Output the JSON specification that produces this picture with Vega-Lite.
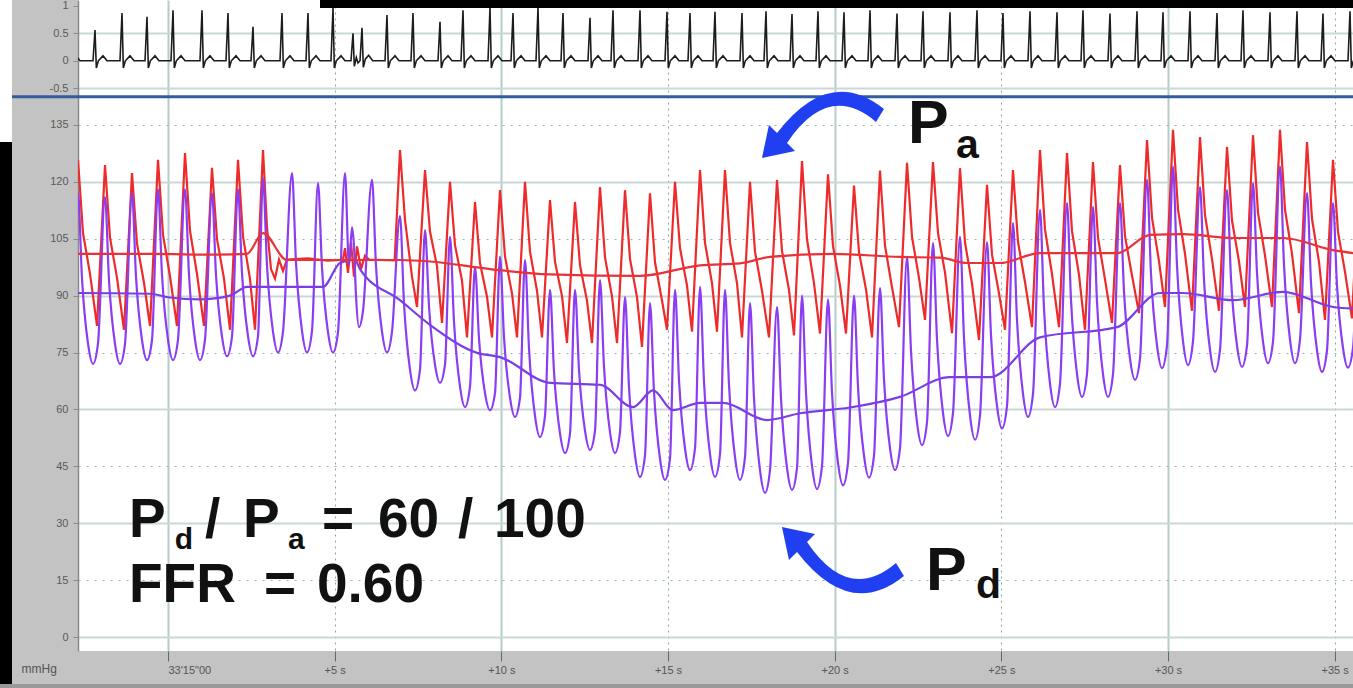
{
"$schema": "https://vega.github.io/schema/vega-lite/v6.json",
"width": 1275,
"height": 651,
"autosize": {"type": "none"},
"padding": {"left": 78, "top": 0, "right": 0, "bottom": 37},
"background": "#c3c3c3",
"config": {"view": {"fill": "#ffffff", "stroke": null}, "font": "Liberation Sans"},
"datasets": {
"pa": [
{"t":-3.72,"p":83},{"t":-3.48,"p":125},{"t":-3.33,"p":106.1},{"t":-3.12,"p":95.6},
{"t":-2.94,"p":83},{"t":-2.7,"p":125.8},{"t":-2.55,"p":106.5},{"t":-2.34,"p":95.8},
{"t":-2.13,"p":82},{"t":-1.89,"p":124.4},{"t":-1.74,"p":105.3},{"t":-1.53,"p":94.7},
{"t":-1.32,"p":81},{"t":-1.08,"p":122.3},{"t":-0.93,"p":103.7},{"t":-0.72,"p":93.4},
{"t":-0.54,"p":82},{"t":-0.3,"p":125.8},{"t":-0.15,"p":106.1},{"t":0.06,"p":95.1},
{"t":0.27,"p":82},{"t":0.51,"p":127.6},{"t":0.66,"p":107.1},{"t":0.87,"p":95.7},
{"t":1.08,"p":82},{"t":1.32,"p":123.7},{"t":1.47,"p":104.9},{"t":1.68,"p":94.5},
{"t":1.86,"p":81},{"t":2.1,"p":125.8},{"t":2.25,"p":105.6},{"t":2.46,"p":94.4},
{"t":2.61,"p":81},{"t":2.85,"p":128.4},{"t":2.97,"p":108},{"t":3.09,"p":97},{"t":3.21,"p":94.5},{"t":3.33,"p":99.5},{"t":3.45,"p":96.5},{"t":3.57,"p":99.5},{"t":4.2,"p":99.8},{"t":4.8,"p":99.2},{"t":5.25,"p":99.5},{"t":5.31,"p":102.5},{"t":5.4,"p":96},{"t":5.49,"p":104},{"t":5.58,"p":95},{"t":5.67,"p":103},{"t":5.79,"p":97},{"t":5.91,"p":100.5},{"t":6.03,"p":99.5},{"t":6.8,"p":99.3},
{"t":6.96,"p":128.4},{"t":7.11,"p":110},{"t":7.32,"p":95},
{"t":7.47,"p":87},{"t":7.71,"p":123.1},{"t":7.86,"p":106.9},{"t":8.07,"p":97.8},
{"t":8.22,"p":82.8},{"t":8.46,"p":120},{"t":8.61,"p":103.3},{"t":8.82,"p":94},
{"t":8.97,"p":79},{"t":9.21,"p":114.7},{"t":9.36,"p":98.6},{"t":9.57,"p":89.7},
{"t":9.72,"p":79},{"t":9.96,"p":117.8},{"t":10.11,"p":100.3},{"t":10.32,"p":90.6},
{"t":10.47,"p":79},{"t":10.71,"p":120},{"t":10.86,"p":101.6},{"t":11.07,"p":91.3},
{"t":11.22,"p":79},{"t":11.46,"p":115.2},{"t":11.61,"p":98.9},{"t":11.82,"p":89.9},
{"t":11.97,"p":77.5},{"t":12.21,"p":114.7},{"t":12.36,"p":98},{"t":12.57,"p":88.7},
{"t":12.72,"p":77.5},{"t":12.96,"p":118.6},{"t":13.11,"p":100.1},{"t":13.32,"p":89.8},
{"t":13.47,"p":77.5},{"t":13.71,"p":117.8},{"t":13.86,"p":99.7},{"t":14.07,"p":89.6},
{"t":14.22,"p":76.5},{"t":14.46,"p":117},{"t":14.61,"p":98.8},{"t":14.82,"p":88.7},
{"t":14.97,"p":81},{"t":15.21,"p":120},{"t":15.36,"p":102.5},{"t":15.57,"p":92.7},
{"t":15.72,"p":80.5},{"t":15.96,"p":123.1},{"t":16.11,"p":103.9},{"t":16.32,"p":93.3},
{"t":16.47,"p":80.5},{"t":16.71,"p":123.1},{"t":16.86,"p":103.9},{"t":17.07,"p":93.3},
{"t":17.22,"p":79},{"t":17.46,"p":120},{"t":17.61,"p":101.6},{"t":17.82,"p":91.3},
{"t":18.03,"p":79},{"t":18.27,"p":120.5},{"t":18.42,"p":101.8},{"t":18.63,"p":91.5},
{"t":18.78,"p":79.5},{"t":19.02,"p":125.5},{"t":19.17,"p":104.8},{"t":19.38,"p":93.3},
{"t":19.56,"p":80},{"t":19.8,"p":122},{"t":19.95,"p":103.1},{"t":20.16,"p":92.6},
{"t":20.34,"p":80},{"t":20.58,"p":119},{"t":20.73,"p":101.5},{"t":20.94,"p":91.7},
{"t":21.12,"p":79},{"t":21.36,"p":123},{"t":21.51,"p":103.2},{"t":21.72,"p":92.2},
{"t":21.93,"p":81.7},{"t":22.17,"p":125},{"t":22.32,"p":105.5},{"t":22.53,"p":94.7},
{"t":22.71,"p":83.6},{"t":22.95,"p":125.2},{"t":23.1,"p":106.5},{"t":23.31,"p":96.1},
{"t":23.52,"p":80.1},{"t":23.76,"p":123.6},{"t":23.91,"p":104},{"t":24.12,"p":93.2},
{"t":24.33,"p":78.3},{"t":24.57,"p":119.2},{"t":24.72,"p":100.8},{"t":24.93,"p":90.6},
{"t":25.11,"p":81},{"t":25.35,"p":123.1},{"t":25.5,"p":104.2},{"t":25.71,"p":93.6},
{"t":25.92,"p":81.7},{"t":26.16,"p":128.4},{"t":26.31,"p":107.4},{"t":26.52,"p":95.7},
{"t":26.73,"p":81.7},{"t":26.97,"p":127.6},{"t":27.12,"p":107},{"t":27.33,"p":95.5},
{"t":27.51,"p":81},{"t":27.75,"p":125.2},{"t":27.9,"p":105.3},{"t":28.11,"p":94.3},
{"t":28.32,"p":82.8},{"t":28.56,"p":124.4},{"t":28.71,"p":105.7},{"t":28.92,"p":95.3},
{"t":29.13,"p":85.4},{"t":29.37,"p":131},{"t":29.52,"p":110.5},{"t":29.73,"p":99.1},
{"t":29.91,"p":87},{"t":30.15,"p":133.7},{"t":30.3,"p":112.7},{"t":30.51,"p":101},
{"t":30.72,"p":86},{"t":30.96,"p":131.8},{"t":31.11,"p":111.2},{"t":31.32,"p":99.7},
{"t":31.53,"p":86},{"t":31.77,"p":129.2},{"t":31.92,"p":109.8},{"t":32.13,"p":99},
{"t":32.31,"p":87},{"t":32.55,"p":132.3},{"t":32.7,"p":111.9},{"t":32.91,"p":100.6},
{"t":33.12,"p":87},{"t":33.36,"p":133.7},{"t":33.51,"p":112.7},{"t":33.72,"p":101},
{"t":33.93,"p":85.4},{"t":34.17,"p":130.5},{"t":34.32,"p":110.2},{"t":34.53,"p":98.9},
{"t":34.71,"p":83.6},{"t":34.95,"p":125.8},{"t":35.1,"p":106.8},{"t":35.31,"p":96.3},
{"t":35.52,"p":84},{"t":35.76,"p":126},{"t":35.91,"p":107}
],
"pd": [
{"t":-3.48,"p":117},{"t":-3.36,"p":95},{"t":-3.18,"p":78.3},{"t":-3.03,"p":73},{"t":-2.88,"p":78.3},
{"t":-2.7,"p":117},{"t":-2.58,"p":94.5},{"t":-2.4,"p":77.4},{"t":-2.25,"p":72},{"t":-2.1,"p":77.4},
{"t":-1.89,"p":116},{"t":-1.77,"p":94},{"t":-1.59,"p":77.3},{"t":-1.44,"p":72},{"t":-1.29,"p":77.3},
{"t":-1.08,"p":117},{"t":-0.96,"p":95},{"t":-0.78,"p":78.3},{"t":-0.63,"p":73},{"t":-0.48,"p":78.3},
{"t":-0.3,"p":118},{"t":-0.18,"p":95.5},{"t":0,"p":78.4},{"t":0.15,"p":73},{"t":0.3,"p":78.4},
{"t":0.51,"p":118},{"t":0.63,"p":95.5},{"t":0.81,"p":78.4},{"t":0.96,"p":73},{"t":1.11,"p":78.4},
{"t":1.32,"p":117},{"t":1.44,"p":95.5},{"t":1.62,"p":79.2},{"t":1.77,"p":74},{"t":1.92,"p":79.2},
{"t":2.1,"p":118},{"t":2.22,"p":96},{"t":2.4,"p":79.3},{"t":2.55,"p":74},{"t":2.7,"p":79.3},
{"t":2.85,"p":121},{"t":2.97,"p":98},{"t":3.15,"p":80.5},{"t":3.3,"p":75},{"t":3.45,"p":80.5},
{"t":3.72,"p":122.3},{"t":3.84,"p":98.7},{"t":4.02,"p":80.7},{"t":4.17,"p":75},{"t":4.32,"p":80.7},
{"t":4.5,"p":119.7},{"t":4.62,"p":97.4},{"t":4.8,"p":80.4},{"t":4.95,"p":75},{"t":5.1,"p":80.4},
{"t":5.31,"p":122.3},{"t":5.43,"p":98},{"t":5.52,"p":108},{"t":5.58,"p":103},{"t":5.64,"p":90},{"t":5.73,"p":81.7},{"t":5.85,"p":86},
{"t":6.12,"p":120.5},{"t":6.24,"p":97.8},{"t":6.42,"p":80.5},{"t":6.57,"p":75},{"t":6.72,"p":80.5},
{"t":6.96,"p":111},{"t":7.08,"p":88},{"t":7.26,"p":70.5},{"t":7.41,"p":65},{"t":7.56,"p":70.5},
{"t":7.71,"p":107.3},{"t":7.83,"p":87.2},{"t":8.01,"p":71.8},{"t":8.16,"p":67},{"t":8.31,"p":71.8},
{"t":8.46,"p":105.5},{"t":8.58,"p":83.1},{"t":8.76,"p":66},{"t":8.91,"p":60.6},{"t":9.06,"p":66},
{"t":9.21,"p":97.5},{"t":9.33,"p":78.7},{"t":9.51,"p":64.3},{"t":9.66,"p":59.8},{"t":9.81,"p":64.3},
{"t":9.96,"p":100.2},{"t":10.08,"p":79.1},{"t":10.26,"p":63.1},{"t":10.41,"p":58},{"t":10.56,"p":63.1},
{"t":10.71,"p":99.4},{"t":10.83,"p":76.1},{"t":11.01,"p":58.3},{"t":11.16,"p":52.7},{"t":11.31,"p":58.3},
{"t":11.46,"p":91.5},{"t":11.58,"p":70},{"t":11.76,"p":53.7},{"t":11.91,"p":48.5},{"t":12.06,"p":53.7},
{"t":12.21,"p":91.5},{"t":12.33,"p":70.4},{"t":12.51,"p":54.4},{"t":12.66,"p":49.3},{"t":12.81,"p":54.4},
{"t":12.96,"p":94.1},{"t":13.08,"p":71.3},{"t":13.26,"p":54},{"t":13.41,"p":48.5},{"t":13.56,"p":54},
{"t":13.71,"p":89.6},{"t":13.83,"p":65.9},{"t":14.01,"p":47.9},{"t":14.16,"p":42.2},{"t":14.31,"p":47.9},
{"t":14.46,"p":88},{"t":14.58,"p":64.7},{"t":14.76,"p":47},{"t":14.91,"p":41.4},{"t":15.06,"p":47},
{"t":15.21,"p":91.5},{"t":15.33,"p":67.8},{"t":15.51,"p":49.7},{"t":15.66,"p":44},{"t":15.81,"p":49.7},
{"t":15.96,"p":92.3},{"t":16.08,"p":67.3},{"t":16.26,"p":48.2},{"t":16.41,"p":42.2},{"t":16.56,"p":48.2},
{"t":16.71,"p":91.5},{"t":16.83,"p":66.5},{"t":17.01,"p":47.4},{"t":17.16,"p":41.4},{"t":17.31,"p":47.4},
{"t":17.46,"p":88},{"t":17.58,"p":63},{"t":17.76,"p":44},{"t":17.91,"p":38},{"t":18.06,"p":44},
{"t":18.27,"p":87},{"t":18.39,"p":62.9},{"t":18.57,"p":44.6},{"t":18.72,"p":38.8},{"t":18.87,"p":44.6},
{"t":19.02,"p":90},{"t":19.14,"p":64.5},{"t":19.32,"p":45.1},{"t":19.47,"p":39},{"t":19.62,"p":45.1},
{"t":19.8,"p":89},{"t":19.92,"p":64.5},{"t":20.1,"p":45.9},{"t":20.25,"p":40},{"t":20.4,"p":45.9},
{"t":20.58,"p":90},{"t":20.7,"p":66},{"t":20.88,"p":47.8},{"t":21.03,"p":42},{"t":21.18,"p":47.8},
{"t":21.36,"p":92},{"t":21.48,"p":68},{"t":21.66,"p":49.8},{"t":21.81,"p":44},{"t":21.96,"p":49.8},
{"t":22.17,"p":100.2},{"t":22.29,"p":75.4},{"t":22.47,"p":56.6},{"t":22.62,"p":50.6},{"t":22.77,"p":56.6},
{"t":22.95,"p":103.9},{"t":23.07,"p":78.5},{"t":23.25,"p":59.1},{"t":23.4,"p":53},{"t":23.55,"p":59.1},
{"t":23.76,"p":105.5},{"t":23.88,"p":78.8},{"t":24.06,"p":58.4},{"t":24.21,"p":52},{"t":24.36,"p":58.4},
{"t":24.57,"p":104.1},{"t":24.69,"p":79.6},{"t":24.87,"p":60.9},{"t":25.02,"p":55},{"t":25.17,"p":60.9},
{"t":25.35,"p":109.1},{"t":25.47,"p":83.6},{"t":25.65,"p":64.1},{"t":25.8,"p":58},{"t":25.95,"p":64.1},
{"t":26.16,"p":112.6},{"t":26.28,"p":86.6},{"t":26.46,"p":66.8},{"t":26.61,"p":60.6},{"t":26.76,"p":66.8},
{"t":26.97,"p":114.4},{"t":27.09,"p":88.9},{"t":27.27,"p":69.4},{"t":27.42,"p":63.3},{"t":27.57,"p":69.4},
{"t":27.75,"p":113.4},{"t":27.87,"p":88.4},{"t":28.05,"p":69.3},{"t":28.2,"p":63.3},{"t":28.35,"p":69.3},
{"t":28.56,"p":114.4},{"t":28.68,"p":91.1},{"t":28.86,"p":73.4},{"t":29.01,"p":67.8},{"t":29.16,"p":73.4},
{"t":29.37,"p":120.5},{"t":29.49,"p":95.7},{"t":29.67,"p":76.9},{"t":29.82,"p":70.9},{"t":29.97,"p":76.9},
{"t":30.15,"p":124},{"t":30.27,"p":97.9},{"t":30.45,"p":78},{"t":30.6,"p":71.7},{"t":30.75,"p":78},
{"t":30.96,"p":118.6},{"t":31.08,"p":94.3},{"t":31.26,"p":75.7},{"t":31.41,"p":69.9},{"t":31.56,"p":75.7},
{"t":31.77,"p":117.8},{"t":31.89,"p":94.5},{"t":32.07,"p":76.8},{"t":32.22,"p":71.2},{"t":32.37,"p":76.8},
{"t":32.55,"p":119.7},{"t":32.67,"p":96},{"t":32.85,"p":77.9},{"t":33,"p":72.2},{"t":33.15,"p":77.9},
{"t":33.36,"p":124},{"t":33.48,"p":98.1},{"t":33.66,"p":78.4},{"t":33.81,"p":72.2},{"t":33.96,"p":78.4},
{"t":34.17,"p":117},{"t":34.29,"p":93.5},{"t":34.47,"p":75.6},{"t":34.62,"p":69.9},{"t":34.77,"p":75.6},
{"t":34.95,"p":114.4},{"t":35.07,"p":92.7},{"t":35.25,"p":76.2},{"t":35.4,"p":71},{"t":35.55,"p":76.2},
{"t":35.76,"p":115},{"t":35.88,"p":93}
],
"pam": [
{"t":-3.6,"p":101},{"t":-2.7,"p":101},{"t":-0.54,"p":101},{"t":1.5,"p":100.8},{"t":2.37,"p":101},{"t":2.85,"p":106.5},{"t":3.57,"p":99.4},{"t":6.96,"p":99.4},{"t":7.86,"p":99},{"t":9.66,"p":97},{"t":11.46,"p":95.6},{"t":14.16,"p":95.2},{"t":15.96,"p":98},{"t":17.16,"p":98.5},{"t":18.06,"p":100.2},{"t":19.95,"p":101},{"t":21.96,"p":100.2},{"t":23.16,"p":100},{"t":23.97,"p":98.6},{"t":24.96,"p":98.6},{"t":26.16,"p":101.2},{"t":28.47,"p":101.2},{"t":29.46,"p":106},{"t":30.45,"p":106.2},{"t":31.95,"p":105.2},{"t":33.45,"p":105.2},{"t":34.95,"p":102},{"t":35.76,"p":101}
],
"pdm": [
{"t":-3.6,"p":90.7},{"t":-2.7,"p":90.7},{"t":-0.54,"p":90.5},{"t":0.06,"p":89.5},{"t":0.96,"p":89},{"t":1.86,"p":90},{"t":2.37,"p":92.3},{"t":4.65,"p":92.3},{"t":5.16,"p":98.6},{"t":5.61,"p":99.5},{"t":5.76,"p":97},{"t":6.96,"p":88.8},{"t":7.95,"p":81.7},{"t":9.27,"p":74.9},{"t":9.96,"p":73.8},{"t":11.46,"p":67},{"t":12.96,"p":66.5},{"t":13.95,"p":60.6},{"t":14.55,"p":65},{"t":15.15,"p":59.8},{"t":15.96,"p":61.7},{"t":16.65,"p":61.7},{"t":17.97,"p":57.2},{"t":18.96,"p":59},{"t":20.46,"p":60.5},{"t":21.96,"p":63.3},{"t":23.46,"p":68.5},{"t":24.66,"p":68.5},{"t":26.16,"p":79},{"t":28.47,"p":81.7},{"t":29.76,"p":90.7},{"t":30.45,"p":90.7},{"t":31.95,"p":88.8},{"t":33.45,"p":91},{"t":34.95,"p":87},{"t":35.76,"p":86.5}
],
"ecg": [
{"t":-3.06,"v":0},{"t":-3,"v":0.85},{"t":-2.96,"v":-0.13},{"t":-2.9,"v":0},{"t":-2.76,"v":0.09},{"t":-2.64,"v":0},
{"t":-2.25,"v":0},{"t":-2.19,"v":0.56},{"t":-2.15,"v":-0.13},{"t":-2.09,"v":0},{"t":-1.95,"v":0.09},{"t":-1.83,"v":0},
{"t":-1.44,"v":0},{"t":-1.38,"v":0.87},{"t":-1.34,"v":-0.13},{"t":-1.28,"v":0},{"t":-1.14,"v":0.09},{"t":-1.02,"v":0},
{"t":-0.69,"v":0},{"t":-0.63,"v":0.8},{"t":-0.59,"v":-0.13},{"t":-0.53,"v":0},{"t":-0.39,"v":0.09},{"t":-0.27,"v":0},
{"t":0.09,"v":0},{"t":0.15,"v":0.92},{"t":0.19,"v":-0.13},{"t":0.25,"v":0},{"t":0.39,"v":0.09},{"t":0.51,"v":0},
{"t":0.96,"v":0},{"t":1.02,"v":0.92},{"t":1.06,"v":-0.13},{"t":1.12,"v":0},{"t":1.26,"v":0.09},{"t":1.38,"v":0},
{"t":1.74,"v":0},{"t":1.8,"v":0.87},{"t":1.84,"v":-0.13},{"t":1.9,"v":0},{"t":2.04,"v":0.09},{"t":2.16,"v":0},
{"t":2.49,"v":0},{"t":2.55,"v":0.62},{"t":2.59,"v":-0.13},{"t":2.65,"v":0},{"t":2.79,"v":0.09},{"t":2.91,"v":0},
{"t":3.36,"v":0},{"t":3.42,"v":0.87},{"t":3.46,"v":-0.13},{"t":3.52,"v":0},{"t":3.66,"v":0.09},{"t":3.78,"v":0},
{"t":4.14,"v":0},{"t":4.2,"v":0.87},{"t":4.24,"v":-0.13},{"t":4.3,"v":0},{"t":4.44,"v":0.09},{"t":4.56,"v":0},
{"t":4.89,"v":0},{"t":4.95,"v":0.96},{"t":4.99,"v":-0.13},{"t":5.05,"v":0},{"t":5.19,"v":0.09},{"t":5.31,"v":0},
{"t":5.49,"v":0},{"t":5.55,"v":0.5},{"t":5.59,"v":-0.1},{"t":5.65,"v":0.06},{"t":5.7,"v":-0.04},{"t":5.76,"v":0},{"t":5.82,"v":0.6},{"t":5.86,"v":-0.12},{"t":5.92,"v":0.03},{"t":6.02,"v":0.1},{"t":6.14,"v":0},
{"t":6.51,"v":0},{"t":6.57,"v":0.83},{"t":6.61,"v":-0.13},{"t":6.67,"v":0},{"t":6.81,"v":0.09},{"t":6.93,"v":0},
{"t":7.29,"v":0},{"t":7.35,"v":0.87},{"t":7.39,"v":-0.13},{"t":7.45,"v":0},{"t":7.59,"v":0.09},{"t":7.71,"v":0},
{"t":8.1,"v":0},{"t":8.16,"v":0.71},{"t":8.2,"v":-0.13},{"t":8.26,"v":0},{"t":8.4,"v":0.09},{"t":8.52,"v":0},
{"t":8.79,"v":0},{"t":8.85,"v":0.92},{"t":8.89,"v":-0.13},{"t":8.95,"v":0},{"t":9.09,"v":0.09},{"t":9.21,"v":0},
{"t":9.6,"v":0},{"t":9.66,"v":0.96},{"t":9.7,"v":-0.13},{"t":9.76,"v":0},{"t":9.9,"v":0.09},{"t":10.02,"v":0},
{"t":10.29,"v":0},{"t":10.35,"v":0.87},{"t":10.39,"v":-0.13},{"t":10.45,"v":0},{"t":10.59,"v":0.09},{"t":10.71,"v":0},
{"t":11.04,"v":0},{"t":11.1,"v":0.96},{"t":11.14,"v":-0.13},{"t":11.2,"v":0},{"t":11.34,"v":0.09},{"t":11.46,"v":0},
{"t":11.79,"v":0},{"t":11.85,"v":0.87},{"t":11.89,"v":-0.13},{"t":11.95,"v":0},{"t":12.09,"v":0.09},{"t":12.21,"v":0},
{"t":12.6,"v":0},{"t":12.66,"v":0.78},{"t":12.7,"v":-0.13},{"t":12.76,"v":0},{"t":12.9,"v":0.09},{"t":13.02,"v":0},
{"t":13.29,"v":0},{"t":13.35,"v":0.92},{"t":13.39,"v":-0.13},{"t":13.45,"v":0},{"t":13.59,"v":0.09},{"t":13.71,"v":0},
{"t":14.1,"v":0},{"t":14.16,"v":0.92},{"t":14.2,"v":-0.13},{"t":14.26,"v":0},{"t":14.4,"v":0.09},{"t":14.52,"v":0},
{"t":14.91,"v":0},{"t":14.97,"v":0.89},{"t":15.01,"v":-0.13},{"t":15.07,"v":0},{"t":15.21,"v":0.09},{"t":15.33,"v":0},
{"t":15.6,"v":0},{"t":15.66,"v":0.87},{"t":15.7,"v":-0.13},{"t":15.76,"v":0},{"t":15.9,"v":0.09},{"t":16.02,"v":0},
{"t":16.35,"v":0},{"t":16.41,"v":0.89},{"t":16.45,"v":-0.13},{"t":16.51,"v":0},{"t":16.65,"v":0.09},{"t":16.77,"v":0},
{"t":17.16,"v":0},{"t":17.22,"v":0.87},{"t":17.26,"v":-0.13},{"t":17.32,"v":0},{"t":17.46,"v":0.09},{"t":17.58,"v":0},
{"t":17.88,"v":0},{"t":17.94,"v":0.9},{"t":17.98,"v":-0.13},{"t":18.04,"v":0},{"t":18.18,"v":0.09},{"t":18.3,"v":0},
{"t":18.66,"v":0},{"t":18.72,"v":0.85},{"t":18.76,"v":-0.13},{"t":18.82,"v":0},{"t":18.96,"v":0.09},{"t":19.08,"v":0},
{"t":19.44,"v":0},{"t":19.5,"v":0.9},{"t":19.54,"v":-0.13},{"t":19.6,"v":0},{"t":19.74,"v":0.09},{"t":19.86,"v":0},
{"t":20.22,"v":0},{"t":20.28,"v":0.88},{"t":20.32,"v":-0.13},{"t":20.38,"v":0},{"t":20.52,"v":0.09},{"t":20.64,"v":0},
{"t":21,"v":0},{"t":21.06,"v":0.92},{"t":21.1,"v":-0.13},{"t":21.16,"v":0},{"t":21.3,"v":0.09},{"t":21.42,"v":0},
{"t":21.81,"v":0},{"t":21.87,"v":0.86},{"t":21.91,"v":-0.13},{"t":21.97,"v":0},{"t":22.11,"v":0.09},{"t":22.23,"v":0},
{"t":22.59,"v":0},{"t":22.65,"v":0.9},{"t":22.69,"v":-0.13},{"t":22.75,"v":0},{"t":22.89,"v":0.09},{"t":23.01,"v":0},
{"t":23.4,"v":0},{"t":23.46,"v":0.88},{"t":23.5,"v":-0.13},{"t":23.56,"v":0},{"t":23.7,"v":0.09},{"t":23.82,"v":0},
{"t":24.21,"v":0},{"t":24.27,"v":0.92},{"t":24.31,"v":-0.13},{"t":24.37,"v":0},{"t":24.51,"v":0.09},{"t":24.63,"v":0},
{"t":24.99,"v":0},{"t":25.05,"v":0.87},{"t":25.09,"v":-0.13},{"t":25.15,"v":0},{"t":25.29,"v":0.09},{"t":25.41,"v":0},
{"t":25.8,"v":0},{"t":25.86,"v":0.9},{"t":25.9,"v":-0.13},{"t":25.96,"v":0},{"t":26.1,"v":0.09},{"t":26.22,"v":0},
{"t":26.61,"v":0},{"t":26.67,"v":0.88},{"t":26.71,"v":-0.13},{"t":26.77,"v":0},{"t":26.91,"v":0.09},{"t":27.03,"v":0},
{"t":27.39,"v":0},{"t":27.45,"v":0.92},{"t":27.49,"v":-0.13},{"t":27.55,"v":0},{"t":27.69,"v":0.09},{"t":27.81,"v":0},
{"t":28.2,"v":0},{"t":28.26,"v":0.86},{"t":28.3,"v":-0.13},{"t":28.36,"v":0},{"t":28.5,"v":0.09},{"t":28.62,"v":0},
{"t":29.01,"v":0},{"t":29.07,"v":0.9},{"t":29.11,"v":-0.13},{"t":29.17,"v":0},{"t":29.31,"v":0.09},{"t":29.43,"v":0},
{"t":29.79,"v":0},{"t":29.85,"v":0.88},{"t":29.89,"v":-0.13},{"t":29.95,"v":0},{"t":30.09,"v":0.09},{"t":30.21,"v":0},
{"t":30.6,"v":0},{"t":30.66,"v":0.9},{"t":30.7,"v":-0.13},{"t":30.76,"v":0},{"t":30.9,"v":0.09},{"t":31.02,"v":0},
{"t":31.41,"v":0},{"t":31.47,"v":0.87},{"t":31.51,"v":-0.13},{"t":31.57,"v":0},{"t":31.71,"v":0.09},{"t":31.83,"v":0},
{"t":32.19,"v":0},{"t":32.25,"v":0.92},{"t":32.29,"v":-0.13},{"t":32.35,"v":0},{"t":32.49,"v":0.09},{"t":32.61,"v":0},
{"t":33,"v":0},{"t":33.06,"v":0.88},{"t":33.1,"v":-0.13},{"t":33.16,"v":0},{"t":33.3,"v":0.09},{"t":33.42,"v":0},
{"t":33.81,"v":0},{"t":33.87,"v":0.9},{"t":33.91,"v":-0.13},{"t":33.97,"v":0},{"t":34.11,"v":0.09},{"t":34.23,"v":0},
{"t":34.59,"v":0},{"t":34.65,"v":0.86},{"t":34.69,"v":-0.13},{"t":34.75,"v":0},{"t":34.89,"v":0.09},{"t":35.01,"v":0},
{"t":35.4,"v":0},{"t":35.46,"v":0.9},{"t":35.5,"v":-0.13},{"t":35.56,"v":0},{"t":35.7,"v":0.09},{"t":35.82,"v":0}
],
"blk": [
{"t":-5.2,"t2":-4.68,"p":-15,"p2":130.5},
{"t":4.56,"t2":36,"p":165.8,"p2":170}
],
"wht": [
{"t":-5.2,"t2":-4.68,"p":130.5,"p2":170}
],
"edge": [
{"t":-5.2,"t2":36,"p":-15,"p2":-12.4}
],
"sep": [
{"t":-4.68,"t2":36,"p":142.4}
],
"arrA": [{"t":19.56,"p":135}],
"arrB": [{"t":20.16,"p":20.3}],
"txt52": [
{"t":-1.17,"p":26.36,"s":"P"},{"t":1.11,"p":26.36,"s":"/"},{"t":2.25,"p":26.36,"s":"P"},{"t":4.62,"p":26.36,"s":"="},{"t":6.3,"p":26.36,"s":"60"},{"t":8.7,"p":26.36,"s":"/"},{"t":9.78,"p":26.36,"s":"100"},
{"t":-1.17,"p":9.23,"s":"FFR"},{"t":2.88,"p":9.23,"s":"="},{"t":4.47,"p":9.23,"s":"0.60"}
],
"txt30": [
{"t":0.2,"p":23.2,"s":"d"},{"t":3.6,"p":23.2,"s":"a"}
],
"txt58": [
{"t":22.2,"p":130.2,"s":"P"},{"t":22.74,"p":12.39,"s":"P"}
],
"txt38": [
{"t":23.64,"p":126.3,"s":"a"},{"t":24.24,"p":10.28,"s":"d"}
]
},
"resolve": {"scale": {"y": "independent"}},
"layer": [
{"layer": [
{"data": {"name": "pa"},
 "mark": {"type": "line", "color": "#ee2b2b", "strokeWidth": 2.2, "clip": true},
 "encoding": {
  "x": {"field": "t", "type": "quantitative", "scale": {"domain": [-2.7, 35.55], "nice": false, "zero": false},
   "axis": {"values": [0, 5, 10, 15, 20, 25, 30, 35], "title": null, "domain": false, "grid": true,
    "gridColor": {"condition": {"test": "datum.value % 10 === 0", "value": "#b4cdca"}, "value": "#87a5a5"},
    "gridDash": {"condition": {"test": "datum.value % 10 === 0", "value": [1, 0]}, "value": [2, 4]},
    "gridWidth": {"condition": {"test": "datum.value % 10 === 0", "value": 2}, "value": 1},
    "ticks": true, "tickSize": 10, "tickColor": "#666666", "tickWidth": 1,
    "labelFontSize": 11, "labelColor": "#555555", "labelPadding": 3, "labelFlush": false, "labelOverlap": false,
    "labelExpr": "datum.value === 0 ? \"33'15\\\"00\" : '+' + datum.value + ' s'",
    "labelAlign": {"condition": {"test": "datum.value === 0", "value": "left"}, "value": "center"}}},
  "y": {"field": "p", "type": "quantitative", "scale": {"domain": [-3.69, 167.94], "nice": false, "zero": false},
   "axis": {"values": [0, 15, 30, 45, 60, 75, 90, 105, 120, 135], "title": "mmHg", "titleAngle": 0, "titleX": -57, "titleY": 668,
    "titleAlign": "left", "titleBaseline": "middle", "titleFontSize": 12, "titleFontWeight": "normal", "titleColor": "#555555",
    "grid": true,
    "gridColor": {"condition": {"test": "datum.value % 30 === 0", "value": "#c9d8d5"}, "value": "#9db3b3"},
    "gridDash": {"condition": {"test": "datum.value % 30 === 0", "value": [1, 0]}, "value": [2, 6]},
    "gridWidth": {"condition": {"test": "datum.value % 30 === 0", "value": 2}, "value": 1},
    "domain": true, "domainColor": "#8a8a8a", "domainWidth": 1.5,
    "ticks": true, "tickSize": 5, "tickColor": "#8a8a8a",
    "labelFontSize": 11, "labelColor": "#5a5a5a", "labelPadding": 5}}}},
{"data": {"name": "pd"},
 "mark": {"type": "line", "color": "#8a3df2", "strokeWidth": 2.2, "clip": true, "interpolate": "monotone"},
 "encoding": {
  "x": {"field": "t", "type": "quantitative"},
  "y": {"field": "p", "type": "quantitative"}}},
{"data": {"name": "pdm"},
 "mark": {"type": "line", "color": "#7a3fe4", "strokeWidth": 2.2, "clip": true, "interpolate": "monotone"},
 "encoding": {
  "x": {"field": "t", "type": "quantitative"},
  "y": {"field": "p", "type": "quantitative"}}},
{"data": {"name": "pam"},
 "mark": {"type": "line", "color": "#e8323a", "strokeWidth": 2.2, "clip": true, "interpolate": "monotone"},
 "encoding": {
  "x": {"field": "t", "type": "quantitative"},
  "y": {"field": "p", "type": "quantitative"}}},
{"data": {"name": "blk"},
 "mark": {"type": "rect", "color": "#000000"},
 "encoding": {
  "x": {"field": "t", "type": "quantitative"},
  "x2": {"field": "t2"},
  "y": {"field": "p", "type": "quantitative"},
  "y2": {"field": "p2"}}},
{"data": {"name": "wht"},
 "mark": {"type": "rect", "color": "#ffffff"},
 "encoding": {
  "x": {"field": "t", "type": "quantitative"},
  "x2": {"field": "t2"},
  "y": {"field": "p", "type": "quantitative"},
  "y2": {"field": "p2"}}},
{"data": {"name": "edge"},
 "mark": {"type": "rect", "color": "#999999"},
 "encoding": {
  "x": {"field": "t", "type": "quantitative"},
  "x2": {"field": "t2"},
  "y": {"field": "p", "type": "quantitative"},
  "y2": {"field": "p2"}}},
{"data": {"name": "sep"},
 "mark": {"type": "rule", "color": "#2f5e9e", "strokeWidth": 3},
 "encoding": {
  "x": {"field": "t", "type": "quantitative"},
  "x2": {"field": "t2"},
  "y": {"field": "p", "type": "quantitative"}}},
{"data": {"name": "arrA"},
 "mark": {"type": "point", "filled": true, "opacity": 1, "color": "#1f3ff0", "size": 19600, "strokeWidth": 0,
  "shape": "M 0.914 -0.229 Q 0.136 -0.857 -0.614 0.114 L -0.729 0 L -0.829 0.471 L -0.357 0.371 L -0.471 0.257 Q 0.121 -0.621 0.8 -0.043 Z"},
 "encoding": {
  "x": {"field": "t", "type": "quantitative"},
  "y": {"field": "p", "type": "quantitative"}}},
{"data": {"name": "arrB"},
 "mark": {"type": "point", "filled": true, "opacity": 1, "color": "#1f3ff0", "size": 19600, "strokeWidth": 0,
  "shape": "M 0.914 0.229 Q 0.136 0.857 -0.614 -0.114 L -0.729 0 L -0.829 -0.471 L -0.357 -0.371 L -0.471 -0.257 Q 0.121 0.621 0.8 0.043 Z"},
 "encoding": {
  "x": {"field": "t", "type": "quantitative"},
  "y": {"field": "p", "type": "quantitative"}}},
{"data": {"name": "txt52"},
 "mark": {"type": "text", "fontSize": 55, "fontWeight": "bold", "align": "left", "baseline": "alphabetic", "color": "#111111", "font": "Liberation Sans"},
 "encoding": {
  "x": {"field": "t", "type": "quantitative"},
  "y": {"field": "p", "type": "quantitative"},
  "text": {"field": "s"}}},
{"data": {"name": "txt30"},
 "mark": {"type": "text", "fontSize": 30, "fontWeight": "bold", "align": "left", "baseline": "alphabetic", "color": "#111111", "font": "Liberation Sans"},
 "encoding": {
  "x": {"field": "t", "type": "quantitative"},
  "y": {"field": "p", "type": "quantitative"},
  "text": {"field": "s"}}},
{"data": {"name": "txt58"},
 "mark": {"type": "text", "fontSize": 61, "fontWeight": "bold", "align": "left", "baseline": "alphabetic", "color": "#111111", "font": "Liberation Sans"},
 "encoding": {
  "x": {"field": "t", "type": "quantitative"},
  "y": {"field": "p", "type": "quantitative"},
  "text": {"field": "s"}}},
{"data": {"name": "txt38"},
 "mark": {"type": "text", "fontSize": 41, "fontWeight": "bold", "align": "left", "baseline": "alphabetic", "color": "#111111", "font": "Liberation Sans"},
 "encoding": {
  "x": {"field": "t", "type": "quantitative"},
  "y": {"field": "p", "type": "quantitative"},
  "text": {"field": "s"}}}
]},
{"data": {"name": "ecg"},
 "mark": {"type": "line", "color": "#1c1c1c", "strokeWidth": 1.6, "clip": true},
 "encoding": {
  "x": {"field": "t", "type": "quantitative"},
  "y": {"field": "v", "type": "quantitative", "scale": {"domain": [-10.73, 1.105], "nice": false, "zero": false},
   "axis": {"orient": "left", "values": [-0.5, 0, 0.5, 1], "title": null, "domain": false, "grid": true,
    "gridColor": {"condition": {"test": "datum.value === 0.5 || datum.value === -0.5", "value": "#c9d8d5"}, "value": "transparent"},
    "gridWidth": 2, "ticks": true, "tickSize": 5, "tickColor": "#8a8a8a",
    "labelFontSize": 11, "labelColor": "#5a5a5a", "labelPadding": 5,
    "labelExpr": "datum.value === 0.5 ? '0.5' : datum.value === -0.5 ? '-0.5' : datum.value === 1 ? '1' : '0'"}}}}
]
}
